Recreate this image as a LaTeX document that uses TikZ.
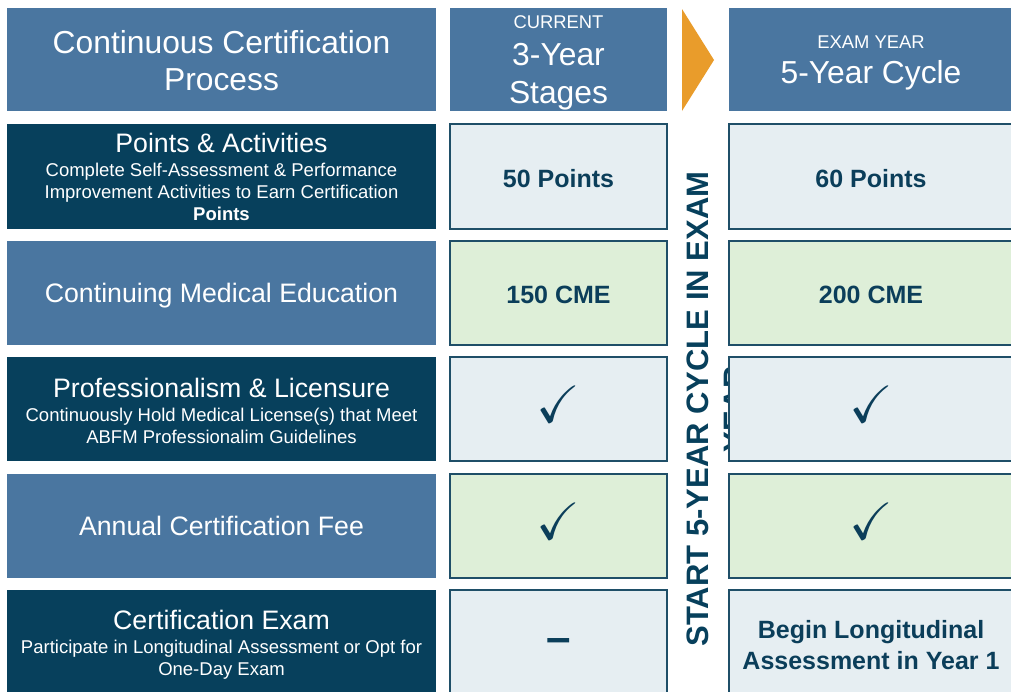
\documentclass[tikz,border=0pt]{standalone}
\usepackage{fontspec}
\setmainfont{Liberation Sans}
\usepackage{amssymb}
\usepackage{graphicx}

\definecolor{hdrblue}{HTML}{4A76A0}
\definecolor{darkteal}{HTML}{07405C}
\definecolor{cellblue}{HTML}{E6EEF2}
\definecolor{cellgreen}{HTML}{DEEFD8}
\definecolor{celledge}{HTML}{1F4F68}
\definecolor{valtext}{HTML}{0B3E5A}
\definecolor{arroworange}{HTML}{E99C2B}

\newcommand\hdrfont{\fontsize{31.8}{38}\selectfont}
\newcommand\tagfont{\fontsize{18.4}{22}\selectfont}
\newcommand\ttlfont{\fontsize{26.7}{32}\selectfont}
\newcommand\subfont{\fontsize{18.5}{22}\selectfont}
\newcommand\valfont{\fontsize{25}{31}\selectfont\bfseries}
\newcommand\tick{\scalebox{2.1}{$\checkmark$}}

\begin{document}
\begin{tikzpicture}[x=1pt,y=-1pt,
  box/.style={anchor=north west, inner sep=0pt, outer sep=0pt, align=center},
  hdr/.style={box, fill=hdrblue, text=white, minimum height=103pt},
  lbl/.style={box, text=white, minimum width=429pt, minimum height=104pt},
  lbldark/.style={lbl, fill=darkteal},
  lblblue/.style={lbl, fill=hdrblue},
  cell/.style={box, draw=celledge, line width=1.5pt, fill=cellblue, text=valtext,
    font=\valfont, minimum height=104pt},
  mid/.style={cell, minimum width=217pt},
  rgt/.style={cell, minimum width=284pt},
  green/.style={fill=cellgreen},
  tickcell/.style={text depth=10pt}
]
\useasboundingbox (0,0) rectangle (1011,691);
\fill[white] (0,0) rectangle (1011,691);
\clip (0,0) rectangle (1011,691);

% header row
\node[hdr, minimum width=429pt, font=\hdrfont, text height=66pt, text depth=4pt]
  (hdr-process) at (7,8) {Continuous Certification\\[-1pt]Process};
\node[hdr, minimum width=217pt, font=\hdrfont, text height=94.2pt, text depth=6pt]
  (hdr-current) at (450,8) {\tagfont CURRENT\\[-1pt]3-Year\\Stages};
\node[hdr, minimum width=284pt, font=\hdrfont, text height=55.2pt, text depth=7pt]
  (hdr-cycle) at (729,8) {\tagfont EXAM YEAR\\[-3pt]5-Year Cycle};
\fill[arroworange] (682,9) -- (714,60) -- (682,111) -- cycle;

% left column
\node[lbldark, font=\subfont, minimum height=105pt] (lbl-points) at (7,124)
  {\ttlfont Points \& Activities\\[2pt]
   Complete Self-Assessment \& Performance\\
   Improvement Activities to Earn Certification\\
   \bfseries Points};
\node[lblblue, font=\ttlfont, text depth=0pt, text height=19pt] (lbl-cme) at (7,241)
  {Continuing Medical Education};
\node[lbldark, font=\subfont, text height=75.5pt, text depth=6pt] (lbl-prof) at (7,357)
  {\ttlfont Professionalism \& Licensure\\[2pt]
   Continuously Hold Medical License(s) that Meet\\
   ABFM Professionalim Guidelines};
\node[lblblue, font=\ttlfont] (lbl-fee) at (7,474) {Annual Certification Fee};
\node[lbldark, font=\subfont, minimum height=110pt] (lbl-exam) at (7,590)
  {\ttlfont Certification Exam\\[2pt]
   Participate in Longitudinal Assessment or Opt for\\
   One-Day Exam};

% vertical banner
\begin{scope}
\clip (667,111) rectangle (729,691);
\node[rotate=90, align=center, inner sep=0pt, text=darkteal,
  font={\fontsize{31}{37}\selectfont\bfseries}] (banner) at (716.5,409)
  {START 5-YEAR CYCLE IN EXAM\\YEAR};
\end{scope}

% 3-year column
\node[mid, minimum height=105pt, text height=21pt, text depth=0pt] (cur-points) at (450,124) {50 Points};
\node[mid, green, text height=21.5pt, text depth=0pt] (cur-cme) at (450,241) {150 CME};
\node[mid, tickcell] (cur-prof) at (450,357) {\tick};
\node[mid, green, tickcell] (cur-fee) at (450,474) {\tick};
\node[mid, minimum height=110pt] (cur-exam) at (450,590)
  {\fontsize{44}{44}\selectfont\textendash};

% 5-year column
\node[rgt, minimum height=105pt, text height=21pt, text depth=0pt] (cyc-points) at (729,124) {60 Points};
\node[rgt, green, text height=21.5pt, text depth=0pt] (cyc-cme) at (729,241) {200 CME};
\node[rgt, tickcell] (cyc-prof) at (729,357) {\tick};
\node[rgt, green, tickcell] (cyc-fee) at (729,474) {\tick};
\node[rgt, minimum height=110pt] (cyc-exam) at (729,590)
  {Begin Longitudinal\\Assessment in Year 1};
\end{tikzpicture}
\end{document}
